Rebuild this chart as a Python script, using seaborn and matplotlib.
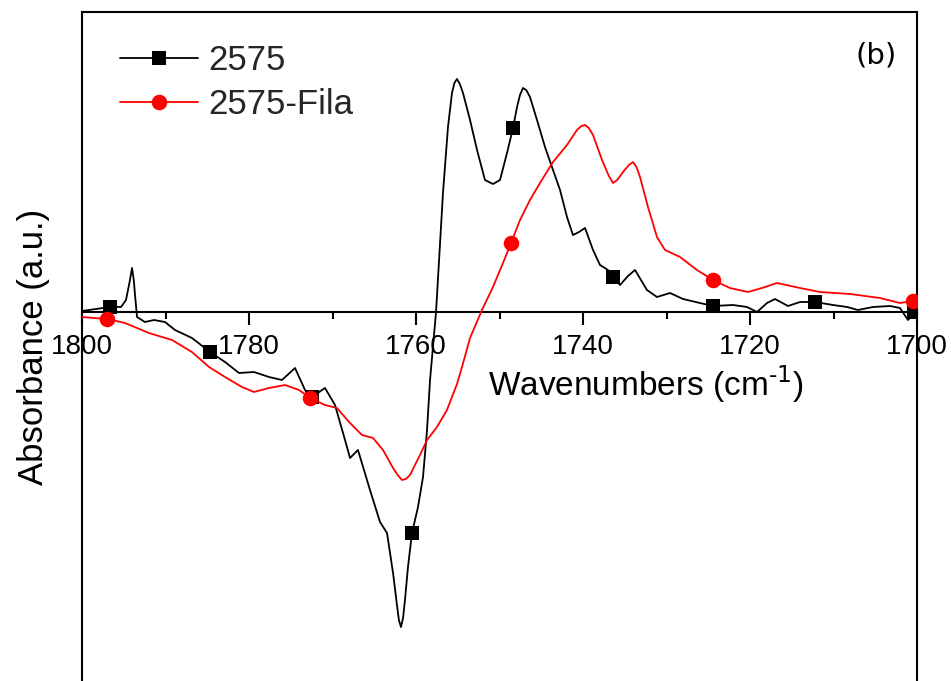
import numpy as np
import pandas as pd
import seaborn as sns
import matplotlib.pyplot as plt
from matplotlib.lines import Line2D
from matplotlib.ticker import MultipleLocator

# Difference spectra in the carbonyl region (wavenumber in cm-1, absorbance in a.u.)
wn_2575 = [1800.00, 1796.65, 1795.33, 1794.73, 1794.30, 1794.01, 1793.80, 1793.65, 1793.41,
           1792.46, 1791.38, 1790.06, 1788.86, 1786.83, 1784.67, 1782.87, 1781.20, 1779.40,
           1777.60, 1776.05, 1774.49, 1773.29, 1772.46, 1770.90, 1769.70, 1768.50,
           1767.90, 1766.95, 1765.51, 1764.31, 1763.47, 1762.75, 1762.28, 1762.05, 1761.80,
           1761.55, 1761.32, 1760.96, 1760.48, 1759.76, 1759.16, 1758.68, 1758.32, 1757.60,
           1756.77, 1756.17, 1755.69, 1755.40, 1755.09, 1754.75, 1754.37, 1753.53, 1752.69,
           1751.74, 1750.78, 1749.94, 1749.10, 1748.38, 1747.90, 1747.55, 1747.19, 1746.80,
           1746.35, 1745.51, 1744.55, 1743.59, 1742.75, 1741.92, 1741.20, 1740.48, 1739.76,
           1738.80, 1737.96, 1737.01, 1736.41, 1735.57, 1734.61, 1733.77, 1732.34, 1731.14,
           1729.58, 1728.02, 1725.99, 1724.43, 1722.04, 1720.36, 1719.16, 1717.96,
           1717.01, 1715.45, 1714.01, 1712.22, 1710.06, 1708.38, 1707.07, 1705.27,
           1703.23, 1702.04, 1701.08, 1700.24, 1700.00]
abs_2575 = [0.01, 0.05, 0.05, 0.12, 0.30, 0.44, 0.32, 0.17, -0.05,
            -0.10, -0.08, -0.10, -0.18, -0.26, -0.40, -0.50, -0.61, -0.60,
            -0.65, -0.68, -0.56, -0.78, -0.85, -0.76, -0.93, -1.28,
            -1.46, -1.38, -1.78, -2.10, -2.21, -2.61, -2.93, -3.08, -3.15,
            -3.06, -2.88, -2.55, -2.21, -1.95, -1.65, -1.18, -0.68, 0.00,
            1.19, 1.85, 2.19, 2.29, 2.33, 2.28, 2.19, 1.92, 1.62,
            1.32, 1.28, 1.32, 1.59, 1.84, 2.05, 2.17, 2.24, 2.22,
            2.15, 1.92, 1.65, 1.42, 1.22, 0.95, 0.77, 0.80, 0.84,
            0.62, 0.47, 0.42, 0.35, 0.27, 0.36, 0.42, 0.22, 0.15,
            0.19, 0.13, 0.09, 0.06, 0.07, 0.05, 0.00, 0.09,
            0.13, 0.06, 0.10, 0.10, 0.07, 0.05, 0.02, 0.05,
            0.06, 0.04, -0.08, -0.01, 0.00]
mark_wn_2575 = [1796.65, 1784.67, 1772.46, 1760.48, 1748.38, 1736.41, 1724.43, 1712.22, 1700.40]
mark_abs_2575 = [0.05, -0.40, -0.85, -2.21, 1.84, 0.35, 0.06, 0.10, 0.00]

wn_fila = [1800.00, 1797.01, 1794.85, 1791.98, 1789.22, 1786.83, 1784.79, 1782.87,
           1780.84, 1779.40, 1777.60, 1775.69, 1774.01, 1772.69, 1770.90, 1769.46,
           1768.02, 1766.47, 1765.15, 1763.95, 1762.75, 1762.20, 1761.68, 1761.20, 1760.72,
           1759.52, 1758.68, 1757.49, 1756.29, 1755.09, 1754.49, 1753.53, 1752.10, 1750.78,
           1749.58, 1748.62, 1747.54, 1746.35, 1745.15, 1743.59, 1741.92, 1740.72, 1740.20,
           1739.76, 1739.30, 1738.80, 1737.72, 1736.90, 1736.41, 1735.90, 1735.21, 1734.50,
           1734.01, 1733.60, 1733.17, 1732.22, 1731.14, 1730.18, 1728.38, 1726.35, 1724.43,
           1722.40, 1720.24, 1718.56, 1716.77, 1714.01, 1711.62, 1708.02, 1704.43, 1702.04,
           1700.48, 1700.00]
abs_fila = [-0.05, -0.07, -0.11, -0.21, -0.28, -0.40, -0.55, -0.65,
            -0.75, -0.80, -0.76, -0.73, -0.78, -0.86, -0.93, -0.96,
            -1.10, -1.23, -1.26, -1.38, -1.56, -1.63, -1.68, -1.67, -1.63,
            -1.43, -1.28, -1.15, -0.98, -0.72, -0.55, -0.26, 0.02, 0.25,
            0.49, 0.69, 0.92, 1.12, 1.29, 1.50, 1.67, 1.82, 1.86,
            1.87, 1.84, 1.77, 1.52, 1.36, 1.29, 1.32, 1.40, 1.47,
            1.50, 1.45, 1.35, 1.05, 0.75, 0.62, 0.55, 0.42, 0.32,
            0.24, 0.20, 0.24, 0.29, 0.24, 0.20, 0.18, 0.14, 0.09,
            0.11, 0.11]
mark_wn_fila = [1797.01, 1772.69, 1748.62, 1724.43, 1700.48]
mark_abs_fila = [-0.07, -0.86, 0.69, 0.32, 0.11]

series_labels = ["2575", "2575-Fila"]
series_colors = ["black", "#ff0000"]
x_ticks = [1800, 1780, 1760, 1740, 1720, 1700]

sns.set_theme(style="ticks")
plt.rcParams["font.family"] = ["Liberation Sans", "DejaVu Sans"]
plt.rcParams["mathtext.default"] = "regular"

fig = plt.figure(figsize=(9.51, 6.81), dpi=100)
ax = fig.add_axes([82 / 951, (681 - 700) / 681, 835 / 951, 688 / 681])

line_kw = dict(sort=False, estimator=None, lw=1.3, ax=ax,
               solid_joinstyle="round", solid_capstyle="round")
sns.lineplot(x=wn_2575, y=abs_2575, color=series_colors[0], zorder=2, **line_kw)
sns.scatterplot(x=mark_wn_2575, y=mark_abs_2575, marker="s", s=95, color=series_colors[0],
                linewidth=0, ax=ax, zorder=3)
sns.lineplot(x=wn_fila, y=abs_fila, color=series_colors[1], zorder=4, **line_kw)
sns.scatterplot(x=mark_wn_fila, y=mark_abs_fila, marker="o", s=125, color=series_colors[1],
                linewidth=0, ax=ax, zorder=5)

ax.set_xlim(1800, 1700)
ax.set_ylim(-3.88, 3.00)

for side in ["left", "right", "top", "bottom"]:
    ax.spines[side].set_color("black")
    ax.spines[side].set_linewidth(1.5)
ax.spines["bottom"].set_position(("data", 0))

ax.set_xticks(x_ticks)
ax.xaxis.set_minor_locator(MultipleLocator(10))
ax.tick_params(axis="x", which="major", direction="out", length=9, width=1.5,
               color="black", labelsize=20, pad=7, labelcolor="black")
ax.tick_params(axis="x", which="minor", direction="out", length=5, width=1.5, color="black")
ax.set_yticks([])
ax.set_xlabel("")
ax.set_ylabel("")

ax.text(1732.5, -0.72, r"Wavenumbers (cm$^{\text{-1}}$)", fontsize=24, ha="center",
        va="center", color="black")
fig.text(34 / 951, 1 - 347 / 681, "Absorbance (a.u.)", rotation=90, fontsize=25,
         ha="center", va="center", color="black")
ax.text(0.951, 0.937, "(b)", transform=ax.transAxes, fontsize=21, ha="center", va="center",
        family="DejaVu Sans", color="black")

handles = [
    Line2D([], [], color=series_colors[0], lw=1.3, marker="s", markersize=9.7, markeredgewidth=0),
    Line2D([], [], color=series_colors[1], lw=1.3, marker="o", markersize=11.2, markeredgewidth=0),
]
ax.legend(handles, series_labels, loc="upper left", bbox_to_anchor=(0.045, 0.953),
          frameon=False, fontsize=25, handlelength=2.25, handletextpad=0.3,
          labelspacing=0.3, borderpad=0, borderaxespad=0)

fig.savefig("out.png", dpi=100)
